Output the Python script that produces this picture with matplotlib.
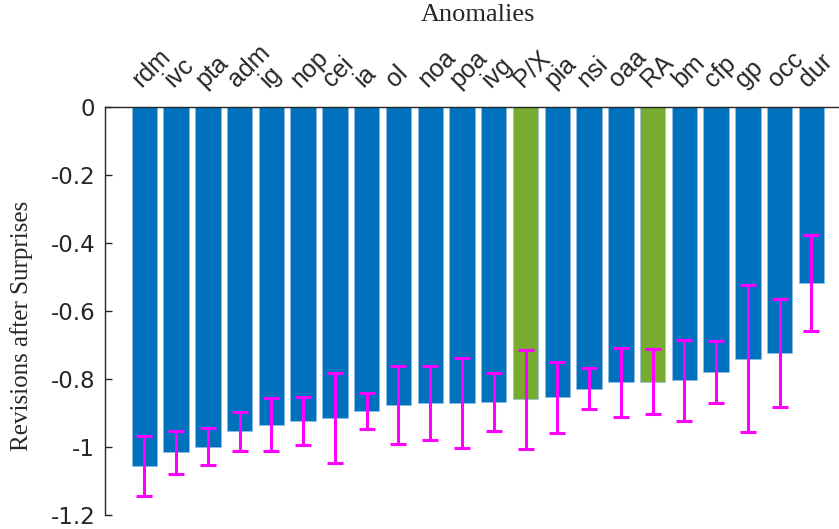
import numpy as np
import matplotlib
matplotlib.use('Agg')
import matplotlib.pyplot as plt
import matplotlib.transforms as mtransforms

# anomaly names, mean revision after surprises, and error bar half-widths
anomalies = ['rdm', 'ivc', 'pta', 'adm', 'ig', 'nop', 'cei', 'ia', 'ol', 'noa', 'poa',
             'ivg', 'P/X', 'pia', 'nsi', 'oaa', 'RA', 'bm', 'cfp', 'gp', 'occ', 'dur']
revisions = [-1.056, -1.016, -0.999, -0.954, -0.935, -0.924, -0.915, -0.893, -0.876, -0.870, -0.870,
             -0.868, -0.860, -0.854, -0.828, -0.810, -0.808, -0.804, -0.779, -0.740, -0.724, -0.518]
errors = [0.089, 0.063, 0.055, 0.058, 0.078, 0.071, 0.132, 0.053, 0.114, 0.109, 0.133,
          0.085, 0.146, 0.104, 0.060, 0.102, 0.096, 0.120, 0.091, 0.217, 0.158, 0.141]
highlight = ['P/X', 'RA']

blue = '#0072BD'
green = '#77AC30'
grey = '#262626'

x = np.arange(len(anomalies))
colors = [green if a in highlight else blue for a in anomalies]

fig = plt.figure(figsize=(8.39, 5.29), dpi=100)
ax = fig.add_axes([0.125, 0.0265, 0.875, 0.7712])

ax.bar(x, revisions, width=0.8, color=colors, edgecolor='#8fbfe6', linewidth=0.5, zorder=2)
ax.errorbar(x, revisions, yerr=errors, fmt='none', ecolor='#FF00FF',
            elinewidth=2.2, capsize=5.8, capthick=2.2, zorder=3)

ax.set_xlim(-1.244, 21.87)
ax.set_ylim(-1.2, 0)

# y axis: MATLAB-style labels with a plain hyphen
yt = np.arange(0, -1.21, -0.2)
ax.set_yticks(yt)
ax.set_yticklabels(['0' if abs(v) < 1e-9 else ('%g' % round(v, 1)) for v in yt])
ax.tick_params(axis='y', direction='in', length=5, width=1, colors=grey,
               labelsize=16.5, labelcolor=grey, pad=7)
for t in ax.get_yticklabels():
    t.set_fontfamily('DejaVu Sans')

# x axis sits on top, labels tilted 45 degrees
ax.xaxis.set_ticks_position('top')
ax.xaxis.set_label_position('top')
ax.set_xticks(x)
ax.set_xticklabels(anomalies, rotation=45, ha='left', va='baseline',
                   rotation_mode='anchor', fontsize=18, color=grey,
                   fontfamily='Liberation Sans')
ax.tick_params(axis='x', length=0, pad=13.5)
offset = mtransforms.ScaledTranslation(-3 / 100, 0, fig.dpi_scale_trans)
for t in ax.get_xticklabels():
    t.set_transform(t.get_transform() + offset)

for side in ['right', 'bottom']:
    ax.spines[side].set_visible(False)
for side in ['left', 'top']:
    ax.spines[side].set_color(grey)
    ax.spines[side].set_linewidth(1)

ax.set_ylabel('Revisions after Surprises', fontsize=18, fontfamily='Liberation Serif',
              color=grey, va='center')
ax.yaxis.set_label_coords(-0.113, 0.463)
fig.text(0.570, 0.972, 'Anomalies', fontsize=19, fontfamily='Liberation Serif',
         color=grey, ha='center', va='center')

fig.savefig('out.png', dpi=100)
